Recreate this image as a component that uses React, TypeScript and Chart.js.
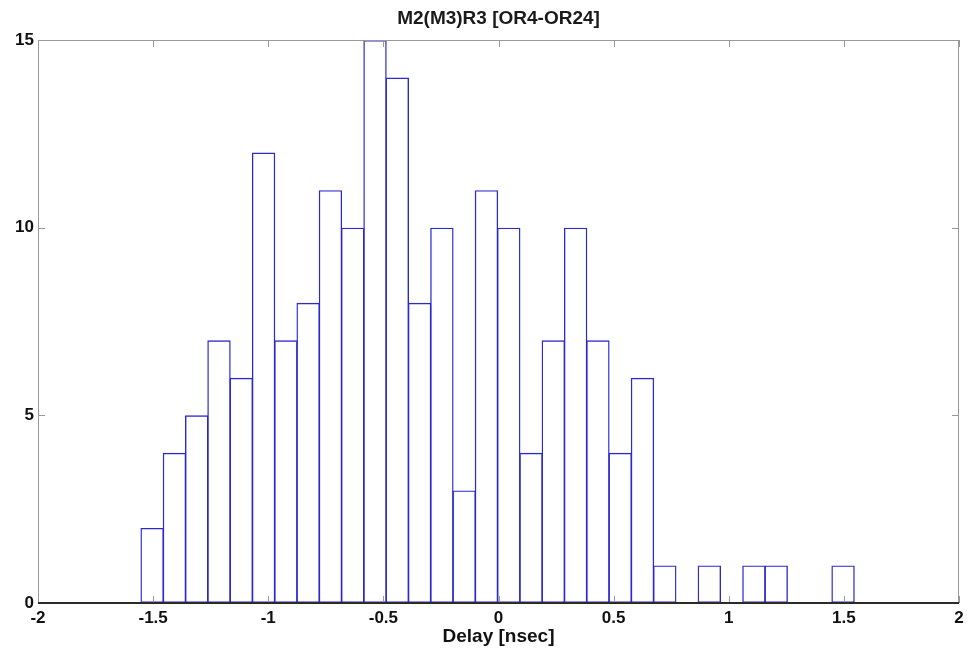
import React, { useEffect, useRef } from "react";
import { Chart, registerables } from "chart.js";

Chart.register(...registerables);

const chartTitle = "M2(M3)R3 [OR4-OR24]";
const xAxisTitle = "Delay [nsec]";

// Histogram bin centers (nsec) and counts
const binCenters = [
  -1.5043, -1.4075, -1.3107, -1.2139, -1.1171, -1.0203, -0.9235, -0.8267,
  -0.7299, -0.6331, -0.5363, -0.4395, -0.3427, -0.2459, -0.1491, -0.0523,
  0.0445, 0.1413, 0.2381, 0.3349, 0.4317, 0.5285, 0.6253, 0.7221,
  0.8189, 0.9157, 1.0125, 1.1093, 1.2061, 1.3029, 1.3997, 1.4965,
];
const counts = [
  2, 4, 5, 7, 6, 12, 7, 8,
  11, 10, 15, 14, 8, 10, 3, 11,
  10, 4, 7, 10, 7, 4, 6, 1,
  0, 1, 0, 1, 1, 0, 0, 1,
];

const xTicks = [-2, -1.5, -1, -0.5, 0, 0.5, 1, 1.5, 2];
const yTicks = [0, 5, 10, 15];

const FONT = "'Liberation Sans', Arial, Helvetica, sans-serif";

const framePlugin = {
  id: "matlabFrame",
  afterDatasetsDraw(chart: any) {
    const { ctx, chartArea } = chart;
    const { left, right, top, bottom } = chartArea;
    const xs = chart.scales.x;
    const ys = chart.scales.y;
    ctx.save();
    ctx.lineWidth = 1;
    ctx.strokeStyle = "#999999";
    ctx.strokeRect(left + 0.5, top + 0.5, right - left - 1, bottom - top);
    // tick marks (inward)
    const tl = 7;
    ctx.beginPath();
    xTicks.forEach((v) => {
      const px = Math.round(xs.getPixelForValue(v)) + 0.5;
      ctx.moveTo(px, bottom);
      ctx.lineTo(px, bottom - tl);
      ctx.moveTo(px, top);
      ctx.lineTo(px, top + tl);
    });
    yTicks.forEach((v) => {
      const py = Math.round(ys.getPixelForValue(v)) + 0.5;
      ctx.moveTo(left, py);
      ctx.lineTo(left + tl, py);
      ctx.moveTo(right, py);
      ctx.lineTo(right - tl, py);
    });
    ctx.stroke();
    // dark bottom axis
    ctx.strokeStyle = "#2a2a2a";
    ctx.lineWidth = 2;
    ctx.beginPath();
    ctx.moveTo(left, bottom);
    ctx.lineTo(right, bottom);
    ctx.stroke();
    // title
    ctx.fillStyle = "#1a1a1a";
    ctx.font = `bold 19px ${FONT}`;
    ctx.textAlign = "center";
    ctx.textBaseline = "alphabetic";
    ctx.fillText(chartTitle, (left + right) / 2, 24);
    ctx.restore();
  },
};

export default function App() {
  const canvasRef = useRef<HTMLCanvasElement | null>(null);

  useEffect(() => {
    const canvas = canvasRef.current;
    if (!canvas) return;
    const chart = new Chart(canvas, {
      type: "bar",
      data: {
        datasets: [
          {
            data: binCenters.map((x, i) => ({ x, y: counts[i] })),
            backgroundColor: "rgba(255,255,255,0)",
            borderColor: "#2b2bcc",
            borderWidth: 1.4,
            borderSkipped: false,
            barPercentage: 1.05,
            categoryPercentage: 1,
          },
        ],
      },
      plugins: [framePlugin],
      options: {
        responsive: false,
        animation: false,
        maintainAspectRatio: false,
        layout: { padding: { left: 0, right: 11, top: 40, bottom: 0 } },
        plugins: {
          legend: { display: false },
          title: { display: false },
          tooltip: { enabled: false },
        },
        scales: {
          x: {
            type: "linear",
            min: -2,
            max: 2,
            offset: false,
            grid: { display: false, drawTicks: false },
            border: { display: false },
            afterBuildTicks: (scale: any) => {
              scale.ticks = xTicks.map((v) => ({ value: v }));
            },
            afterFit: (scale: any) => {
              scale.height = 45;
            },
            ticks: {
              padding: 5,
              maxRotation: 0,
              autoSkip: false,
              color: "#111111",
              font: { family: FONT, size: 17, weight: "bold" },
              callback: (v: any) => String(v),
            },
            title: {
              display: true,
              text: xAxisTitle,
              color: "#111111",
              font: { family: FONT, size: 19, weight: "bold" },
              padding: { top: 0, bottom: 0 },
            },
          },
          y: {
            min: 0,
            max: 15,
            grid: { display: false, drawTicks: false },
            border: { display: false },
            afterBuildTicks: (scale: any) => {
              scale.ticks = yTicks.map((v) => ({ value: v }));
            },
            afterFit: (scale: any) => {
              scale.width = 38;
            },
            ticks: {
              padding: 4,
              color: "#111111",
              font: { family: FONT, size: 17, weight: "bold" },
              callback: (v: any) => String(v),
            },
          },
        },
      } as any,
    });
    return () => chart.destroy();
  }, []);

  return (
    <div style={{ position: "fixed", left: 0, top: 0, width: 970, height: 648, background: "#ffffff" }}>
      <canvas ref={canvasRef} width={970} height={648} style={{ display: "block" }} />
    </div>
  );
}
